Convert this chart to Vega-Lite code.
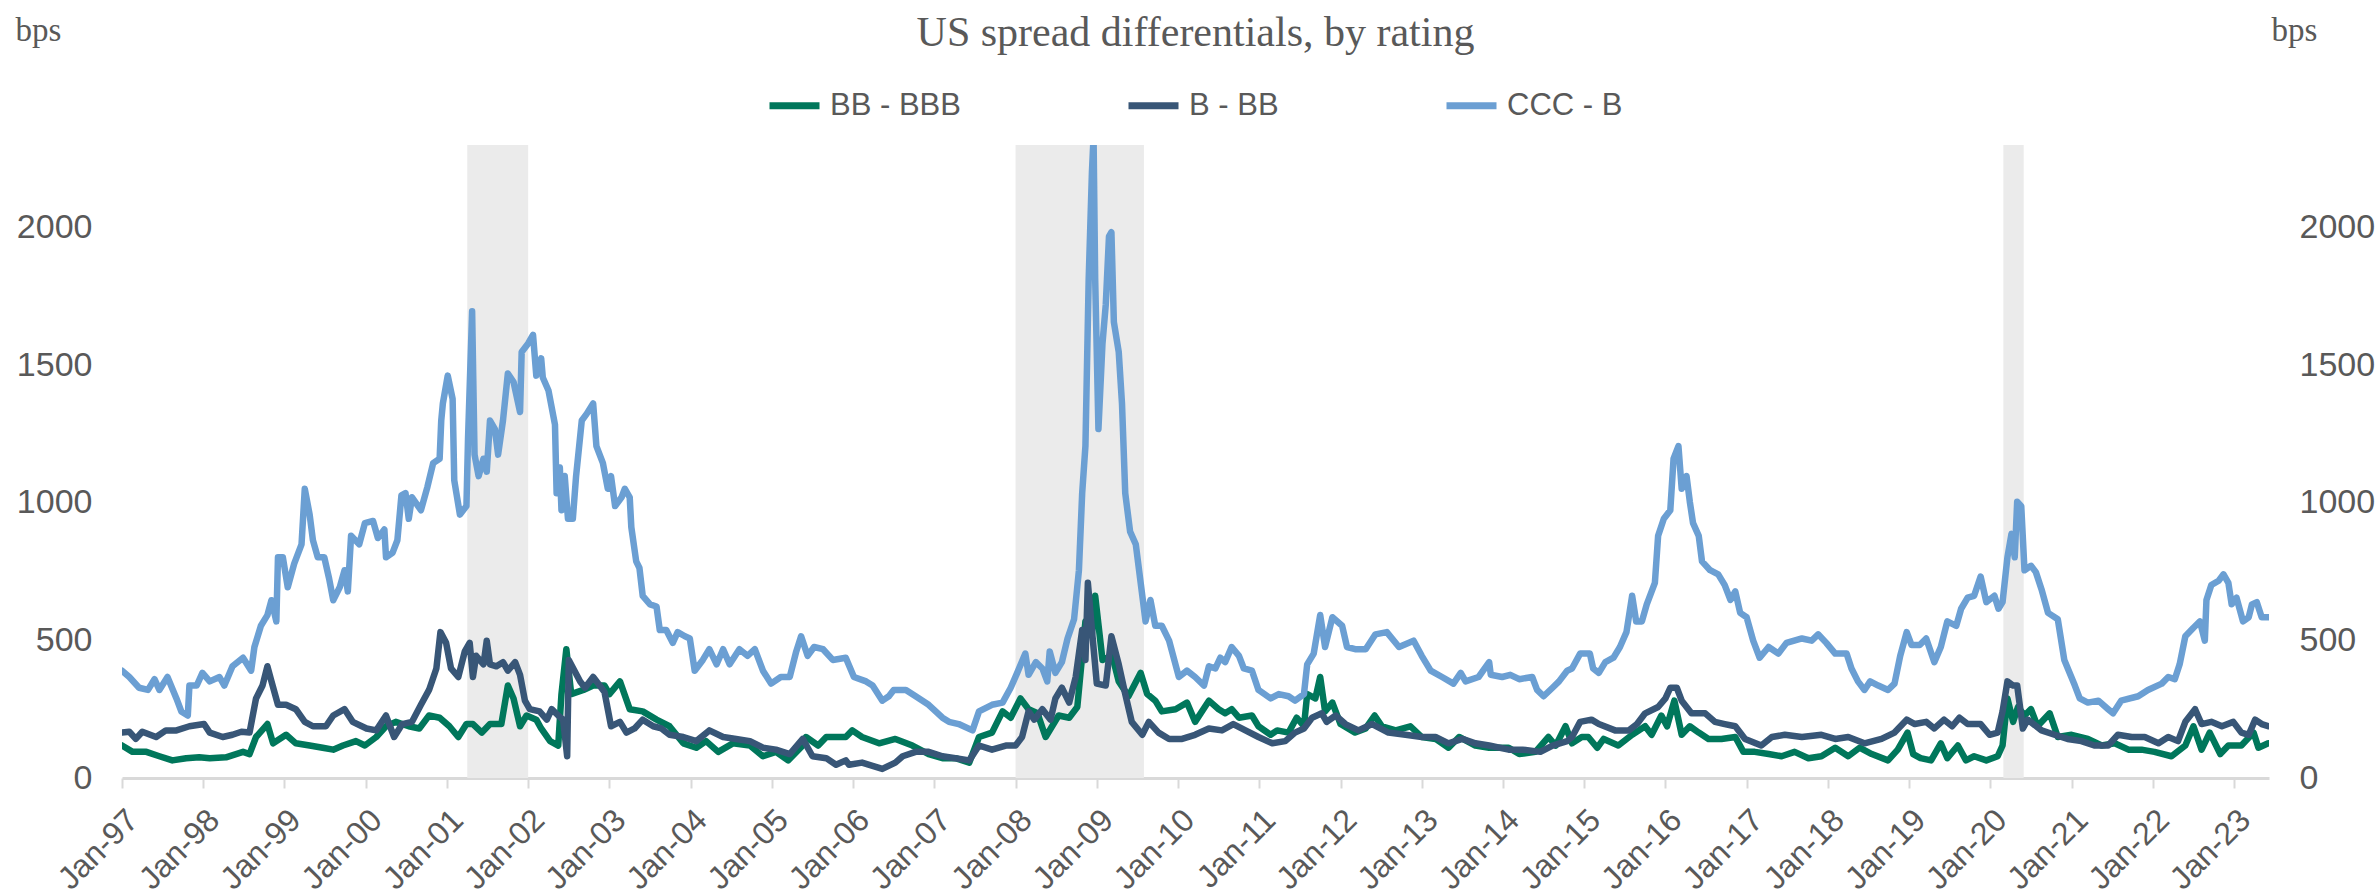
{
  "$schema": "https://vega.github.io/schema/vega-lite/v6.json",
  "width": 2147,
  "height": 633,
  "autosize": {"type": "none"},
  "padding": {"left": 122, "top": 145, "right": 110, "bottom": 118},
  "background": "white",
  "title": {"text": "US spread differentials, by rating", "font": "Liberation Serif", "fontSize": 42, "fontWeight": "normal", "color": "#595959", "anchor": "middle", "frame": "group", "offset": -41},
  "config": {"view": {"stroke": null}},
  "datasets": {
    "rec": [
      {"start": 2001.25, "end": 2002.0},
      {"start": 2008.0, "end": 2009.58},
      {"start": 2020.16, "end": 2020.41}
    ],
    "spreads": [
      {"t":1997.00,"s":"BB - BBB","v":118},{"t":1997.13,"s":"BB - BBB","v":95},{"t":1997.30,"s":"BB - BBB","v":95},{"t":1997.46,"s":"BB - BBB","v":79},{"t":1997.62,"s":"BB - BBB","v":64},{"t":1997.79,"s":"BB - BBB","v":72},{"t":1997.95,"s":"BB - BBB","v":75},{"t":1998.08,"s":"BB - BBB","v":72},{"t":1998.28,"s":"BB - BBB","v":75},{"t":1998.49,"s":"BB - BBB","v":95},{"t":1998.57,"s":"BB - BBB","v":87},{"t":1998.65,"s":"BB - BBB","v":149},{"t":1998.79,"s":"BB - BBB","v":196},{"t":1998.86,"s":"BB - BBB","v":126},{"t":1999.02,"s":"BB - BBB","v":157},{"t":1999.14,"s":"BB - BBB","v":126},{"t":1999.31,"s":"BB - BBB","v":118},{"t":1999.47,"s":"BB - BBB","v":110},{"t":1999.60,"s":"BB - BBB","v":103},{"t":1999.72,"s":"BB - BBB","v":118},{"t":1999.88,"s":"BB - BBB","v":134},{"t":1999.99,"s":"BB - BBB","v":118},{"t":2000.13,"s":"BB - BBB","v":149},{"t":2000.25,"s":"BB - BBB","v":188},{"t":2000.37,"s":"BB - BBB","v":204},{"t":2000.53,"s":"BB - BBB","v":188},{"t":2000.66,"s":"BB - BBB","v":180},{"t":2000.78,"s":"BB - BBB","v":227},{"t":2000.91,"s":"BB - BBB","v":219},{"t":2001.03,"s":"BB - BBB","v":188},{"t":2001.14,"s":"BB - BBB","v":149},{"t":2001.24,"s":"BB - BBB","v":196},{"t":2001.32,"s":"BB - BBB","v":196},{"t":2001.43,"s":"BB - BBB","v":165},{"t":2001.53,"s":"BB - BBB","v":196},{"t":2001.67,"s":"BB - BBB","v":196},{"t":2001.75,"s":"BB - BBB","v":336},{"t":2001.82,"s":"BB - BBB","v":289},{"t":2001.90,"s":"BB - BBB","v":188},{"t":2001.98,"s":"BB - BBB","v":227},{"t":2002.10,"s":"BB - BBB","v":212},{"t":2002.16,"s":"BB - BBB","v":180},{"t":2002.27,"s":"BB - BBB","v":134},{"t":2002.37,"s":"BB - BBB","v":118},{"t":2002.41,"s":"BB - BBB","v":305},{"t":2002.47,"s":"BB - BBB","v":468},{"t":2002.53,"s":"BB - BBB","v":305},{"t":2002.68,"s":"BB - BBB","v":320},{"t":2002.80,"s":"BB - BBB","v":336},{"t":2002.94,"s":"BB - BBB","v":336},{"t":2003.00,"s":"BB - BBB","v":305},{"t":2003.13,"s":"BB - BBB","v":351},{"t":2003.25,"s":"BB - BBB","v":250},{"t":2003.41,"s":"BB - BBB","v":242},{"t":2003.58,"s":"BB - BBB","v":212},{"t":2003.74,"s":"BB - BBB","v":188},{"t":2003.91,"s":"BB - BBB","v":126},{"t":2004.07,"s":"BB - BBB","v":110},{"t":2004.19,"s":"BB - BBB","v":134},{"t":2004.34,"s":"BB - BBB","v":95},{"t":2004.52,"s":"BB - BBB","v":126},{"t":2004.73,"s":"BB - BBB","v":118},{"t":2004.89,"s":"BB - BBB","v":79},{"t":2005.05,"s":"BB - BBB","v":95},{"t":2005.20,"s":"BB - BBB","v":64},{"t":2005.38,"s":"BB - BBB","v":118},{"t":2005.42,"s":"BB - BBB","v":149},{"t":2005.57,"s":"BB - BBB","v":118},{"t":2005.67,"s":"BB - BBB","v":149},{"t":2005.79,"s":"BB - BBB","v":149},{"t":2005.91,"s":"BB - BBB","v":149},{"t":2005.99,"s":"BB - BBB","v":173},{"t":2006.11,"s":"BB - BBB","v":149},{"t":2006.32,"s":"BB - BBB","v":126},{"t":2006.52,"s":"BB - BBB","v":142},{"t":2006.73,"s":"BB - BBB","v":118},{"t":2006.93,"s":"BB - BBB","v":87},{"t":2007.10,"s":"BB - BBB","v":72},{"t":2007.26,"s":"BB - BBB","v":72},{"t":2007.43,"s":"BB - BBB","v":56},{"t":2007.55,"s":"BB - BBB","v":149},{"t":2007.71,"s":"BB - BBB","v":165},{"t":2007.84,"s":"BB - BBB","v":242},{"t":2007.94,"s":"BB - BBB","v":219},{"t":2008.06,"s":"BB - BBB","v":289},{"t":2008.16,"s":"BB - BBB","v":250},{"t":2008.27,"s":"BB - BBB","v":235},{"t":2008.37,"s":"BB - BBB","v":149},{"t":2008.53,"s":"BB - BBB","v":227},{"t":2008.66,"s":"BB - BBB","v":219},{"t":2008.76,"s":"BB - BBB","v":258},{"t":2008.86,"s":"BB - BBB","v":569},{"t":2008.94,"s":"BB - BBB","v":522},{"t":2008.98,"s":"BB - BBB","v":662},{"t":2009.07,"s":"BB - BBB","v":429},{"t":2009.19,"s":"BB - BBB","v":444},{"t":2009.27,"s":"BB - BBB","v":351},{"t":2009.39,"s":"BB - BBB","v":297},{"t":2009.54,"s":"BB - BBB","v":382},{"t":2009.62,"s":"BB - BBB","v":305},{"t":2009.72,"s":"BB - BBB","v":281},{"t":2009.80,"s":"BB - BBB","v":242},{"t":2009.97,"s":"BB - BBB","v":250},{"t":2010.11,"s":"BB - BBB","v":274},{"t":2010.21,"s":"BB - BBB","v":204},{"t":2010.38,"s":"BB - BBB","v":281},{"t":2010.50,"s":"BB - BBB","v":250},{"t":2010.58,"s":"BB - BBB","v":235},{"t":2010.66,"s":"BB - BBB","v":250},{"t":2010.75,"s":"BB - BBB","v":219},{"t":2010.91,"s":"BB - BBB","v":227},{"t":2010.99,"s":"BB - BBB","v":188},{"t":2011.14,"s":"BB - BBB","v":157},{"t":2011.22,"s":"BB - BBB","v":173},{"t":2011.36,"s":"BB - BBB","v":165},{"t":2011.46,"s":"BB - BBB","v":219},{"t":2011.55,"s":"BB - BBB","v":188},{"t":2011.59,"s":"BB - BBB","v":305},{"t":2011.69,"s":"BB - BBB","v":289},{"t":2011.75,"s":"BB - BBB","v":367},{"t":2011.81,"s":"BB - BBB","v":242},{"t":2011.90,"s":"BB - BBB","v":274},{"t":2012.00,"s":"BB - BBB","v":196},{"t":2012.18,"s":"BB - BBB","v":165},{"t":2012.31,"s":"BB - BBB","v":180},{"t":2012.42,"s":"BB - BBB","v":227},{"t":2012.51,"s":"BB - BBB","v":188},{"t":2012.68,"s":"BB - BBB","v":173},{"t":2012.86,"s":"BB - BBB","v":188},{"t":2013.00,"s":"BB - BBB","v":149},{"t":2013.17,"s":"BB - BBB","v":142},{"t":2013.33,"s":"BB - BBB","v":110},{"t":2013.46,"s":"BB - BBB","v":149},{"t":2013.66,"s":"BB - BBB","v":118},{"t":2013.83,"s":"BB - BBB","v":110},{"t":2014.07,"s":"BB - BBB","v":110},{"t":2014.20,"s":"BB - BBB","v":87},{"t":2014.40,"s":"BB - BBB","v":95},{"t":2014.56,"s":"BB - BBB","v":149},{"t":2014.65,"s":"BB - BBB","v":118},{"t":2014.77,"s":"BB - BBB","v":188},{"t":2014.85,"s":"BB - BBB","v":126},{"t":2014.97,"s":"BB - BBB","v":149},{"t":2015.05,"s":"BB - BBB","v":149},{"t":2015.16,"s":"BB - BBB","v":110},{"t":2015.24,"s":"BB - BBB","v":142},{"t":2015.42,"s":"BB - BBB","v":118},{"t":2015.59,"s":"BB - BBB","v":157},{"t":2015.75,"s":"BB - BBB","v":188},{"t":2015.83,"s":"BB - BBB","v":157},{"t":2015.95,"s":"BB - BBB","v":227},{"t":2016.02,"s":"BB - BBB","v":188},{"t":2016.11,"s":"BB - BBB","v":281},{"t":2016.20,"s":"BB - BBB","v":157},{"t":2016.30,"s":"BB - BBB","v":188},{"t":2016.41,"s":"BB - BBB","v":165},{"t":2016.53,"s":"BB - BBB","v":142},{"t":2016.69,"s":"BB - BBB","v":142},{"t":2016.86,"s":"BB - BBB","v":149},{"t":2016.96,"s":"BB - BBB","v":95},{"t":2017.10,"s":"BB - BBB","v":95},{"t":2017.27,"s":"BB - BBB","v":87},{"t":2017.43,"s":"BB - BBB","v":79},{"t":2017.59,"s":"BB - BBB","v":95},{"t":2017.76,"s":"BB - BBB","v":72},{"t":2017.92,"s":"BB - BBB","v":79},{"t":2018.09,"s":"BB - BBB","v":110},{"t":2018.25,"s":"BB - BBB","v":79},{"t":2018.39,"s":"BB - BBB","v":110},{"t":2018.54,"s":"BB - BBB","v":87},{"t":2018.74,"s":"BB - BBB","v":64},{"t":2018.86,"s":"BB - BBB","v":103},{"t":2018.98,"s":"BB - BBB","v":165},{"t":2019.05,"s":"BB - BBB","v":87},{"t":2019.14,"s":"BB - BBB","v":72},{"t":2019.27,"s":"BB - BBB","v":64},{"t":2019.39,"s":"BB - BBB","v":126},{"t":2019.47,"s":"BB - BBB","v":72},{"t":2019.60,"s":"BB - BBB","v":118},{"t":2019.70,"s":"BB - BBB","v":64},{"t":2019.80,"s":"BB - BBB","v":79},{"t":2019.95,"s":"BB - BBB","v":64},{"t":2020.09,"s":"BB - BBB","v":79},{"t":2020.15,"s":"BB - BBB","v":118},{"t":2020.21,"s":"BB - BBB","v":289},{"t":2020.28,"s":"BB - BBB","v":204},{"t":2020.34,"s":"BB - BBB","v":258},{"t":2020.42,"s":"BB - BBB","v":227},{"t":2020.50,"s":"BB - BBB","v":250},{"t":2020.58,"s":"BB - BBB","v":188},{"t":2020.73,"s":"BB - BBB","v":235},{"t":2020.83,"s":"BB - BBB","v":149},{"t":2021.00,"s":"BB - BBB","v":157},{"t":2021.20,"s":"BB - BBB","v":142},{"t":2021.37,"s":"BB - BBB","v":118},{"t":2021.53,"s":"BB - BBB","v":126},{"t":2021.70,"s":"BB - BBB","v":103},{"t":2021.86,"s":"BB - BBB","v":103},{"t":2022.02,"s":"BB - BBB","v":95},{"t":2022.23,"s":"BB - BBB","v":79},{"t":2022.40,"s":"BB - BBB","v":118},{"t":2022.50,"s":"BB - BBB","v":188},{"t":2022.60,"s":"BB - BBB","v":103},{"t":2022.70,"s":"BB - BBB","v":165},{"t":2022.83,"s":"BB - BBB","v":87},{"t":2022.93,"s":"BB - BBB","v":118},{"t":2023.09,"s":"BB - BBB","v":118},{"t":2023.24,"s":"BB - BBB","v":165},{"t":2023.30,"s":"BB - BBB","v":110},{"t":2023.42,"s":"BB - BBB","v":126},

      {"t":1997.00,"s":"B - BB","v":165},{"t":1997.09,"s":"B - BB","v":168},{"t":1997.17,"s":"B - BB","v":142},{"t":1997.25,"s":"B - BB","v":168},{"t":1997.42,"s":"B - BB","v":149},{"t":1997.54,"s":"B - BB","v":173},{"t":1997.67,"s":"B - BB","v":173},{"t":1997.83,"s":"B - BB","v":188},{"t":1998.01,"s":"B - BB","v":196},{"t":1998.08,"s":"B - BB","v":165},{"t":1998.24,"s":"B - BB","v":149},{"t":1998.36,"s":"B - BB","v":157},{"t":1998.47,"s":"B - BB","v":168},{"t":1998.57,"s":"B - BB","v":165},{"t":1998.65,"s":"B - BB","v":289},{"t":1998.73,"s":"B - BB","v":336},{"t":1998.79,"s":"B - BB","v":406},{"t":1998.84,"s":"B - BB","v":351},{"t":1998.92,"s":"B - BB","v":266},{"t":1999.02,"s":"B - BB","v":266},{"t":1999.14,"s":"B - BB","v":250},{"t":1999.25,"s":"B - BB","v":204},{"t":1999.35,"s":"B - BB","v":188},{"t":1999.51,"s":"B - BB","v":188},{"t":1999.60,"s":"B - BB","v":227},{"t":1999.74,"s":"B - BB","v":250},{"t":1999.84,"s":"B - BB","v":204},{"t":2000.01,"s":"B - BB","v":180},{"t":2000.13,"s":"B - BB","v":173},{"t":2000.25,"s":"B - BB","v":227},{"t":2000.35,"s":"B - BB","v":149},{"t":2000.45,"s":"B - BB","v":196},{"t":2000.57,"s":"B - BB","v":204},{"t":2000.68,"s":"B - BB","v":266},{"t":2000.78,"s":"B - BB","v":320},{"t":2000.87,"s":"B - BB","v":398},{"t":2000.92,"s":"B - BB","v":530},{"t":2000.99,"s":"B - BB","v":491},{"t":2001.05,"s":"B - BB","v":398},{"t":2001.14,"s":"B - BB","v":367},{"t":2001.22,"s":"B - BB","v":460},{"t":2001.28,"s":"B - BB","v":491},{"t":2001.32,"s":"B - BB","v":367},{"t":2001.36,"s":"B - BB","v":444},{"t":2001.45,"s":"B - BB","v":413},{"t":2001.49,"s":"B - BB","v":499},{"t":2001.53,"s":"B - BB","v":413},{"t":2001.61,"s":"B - BB","v":406},{"t":2001.69,"s":"B - BB","v":421},{"t":2001.75,"s":"B - BB","v":390},{"t":2001.84,"s":"B - BB","v":421},{"t":2001.90,"s":"B - BB","v":375},{"t":2001.96,"s":"B - BB","v":281},{"t":2002.02,"s":"B - BB","v":250},{"t":2002.14,"s":"B - BB","v":242},{"t":2002.23,"s":"B - BB","v":212},{"t":2002.29,"s":"B - BB","v":250},{"t":2002.37,"s":"B - BB","v":227},{"t":2002.43,"s":"B - BB","v":212},{"t":2002.48,"s":"B - BB","v":79},{"t":2002.50,"s":"B - BB","v":429},{"t":2002.57,"s":"B - BB","v":390},{"t":2002.64,"s":"B - BB","v":351},{"t":2002.70,"s":"B - BB","v":328},{"t":2002.80,"s":"B - BB","v":367},{"t":2002.88,"s":"B - BB","v":336},{"t":2002.94,"s":"B - BB","v":312},{"t":2002.98,"s":"B - BB","v":250},{"t":2003.02,"s":"B - BB","v":188},{"t":2003.13,"s":"B - BB","v":204},{"t":2003.21,"s":"B - BB","v":165},{"t":2003.31,"s":"B - BB","v":180},{"t":2003.41,"s":"B - BB","v":212},{"t":2003.54,"s":"B - BB","v":188},{"t":2003.64,"s":"B - BB","v":180},{"t":2003.74,"s":"B - BB","v":157},{"t":2003.91,"s":"B - BB","v":149},{"t":2004.07,"s":"B - BB","v":134},{"t":2004.23,"s":"B - BB","v":173},{"t":2004.40,"s":"B - BB","v":149},{"t":2004.56,"s":"B - BB","v":142},{"t":2004.73,"s":"B - BB","v":134},{"t":2004.89,"s":"B - BB","v":110},{"t":2005.05,"s":"B - BB","v":103},{"t":2005.22,"s":"B - BB","v":87},{"t":2005.38,"s":"B - BB","v":142},{"t":2005.50,"s":"B - BB","v":79},{"t":2005.67,"s":"B - BB","v":72},{"t":2005.79,"s":"B - BB","v":48},{"t":2005.91,"s":"B - BB","v":64},{"t":2005.95,"s":"B - BB","v":48},{"t":2006.11,"s":"B - BB","v":56},{"t":2006.36,"s":"B - BB","v":33},{"t":2006.52,"s":"B - BB","v":56},{"t":2006.61,"s":"B - BB","v":79},{"t":2006.77,"s":"B - BB","v":95},{"t":2006.93,"s":"B - BB","v":95},{"t":2007.10,"s":"B - BB","v":79},{"t":2007.26,"s":"B - BB","v":72},{"t":2007.43,"s":"B - BB","v":64},{"t":2007.55,"s":"B - BB","v":118},{"t":2007.71,"s":"B - BB","v":103},{"t":2007.88,"s":"B - BB","v":118},{"t":2008.00,"s":"B - BB","v":118},{"t":2008.08,"s":"B - BB","v":149},{"t":2008.16,"s":"B - BB","v":242},{"t":2008.23,"s":"B - BB","v":212},{"t":2008.33,"s":"B - BB","v":250},{"t":2008.43,"s":"B - BB","v":212},{"t":2008.49,"s":"B - BB","v":289},{"t":2008.57,"s":"B - BB","v":328},{"t":2008.66,"s":"B - BB","v":274},{"t":2008.74,"s":"B - BB","v":367},{"t":2008.82,"s":"B - BB","v":538},{"t":2008.86,"s":"B - BB","v":429},{"t":2008.89,"s":"B - BB","v":709},{"t":2008.94,"s":"B - BB","v":538},{"t":2009.00,"s":"B - BB","v":343},{"t":2009.11,"s":"B - BB","v":336},{"t":2009.18,"s":"B - BB","v":515},{"t":2009.27,"s":"B - BB","v":413},{"t":2009.35,"s":"B - BB","v":305},{"t":2009.43,"s":"B - BB","v":204},{"t":2009.56,"s":"B - BB","v":157},{"t":2009.64,"s":"B - BB","v":204},{"t":2009.76,"s":"B - BB","v":165},{"t":2009.89,"s":"B - BB","v":142},{"t":2010.05,"s":"B - BB","v":142},{"t":2010.21,"s":"B - BB","v":157},{"t":2010.38,"s":"B - BB","v":180},{"t":2010.54,"s":"B - BB","v":173},{"t":2010.68,"s":"B - BB","v":196},{"t":2010.83,"s":"B - BB","v":173},{"t":2010.99,"s":"B - BB","v":149},{"t":2011.16,"s":"B - BB","v":126},{"t":2011.32,"s":"B - BB","v":134},{"t":2011.44,"s":"B - BB","v":165},{"t":2011.55,"s":"B - BB","v":180},{"t":2011.65,"s":"B - BB","v":219},{"t":2011.77,"s":"B - BB","v":235},{"t":2011.83,"s":"B - BB","v":204},{"t":2011.94,"s":"B - BB","v":227},{"t":2012.06,"s":"B - BB","v":196},{"t":2012.22,"s":"B - BB","v":173},{"t":2012.39,"s":"B - BB","v":196},{"t":2012.59,"s":"B - BB","v":165},{"t":2012.80,"s":"B - BB","v":157},{"t":2013.00,"s":"B - BB","v":149},{"t":2013.17,"s":"B - BB","v":149},{"t":2013.33,"s":"B - BB","v":126},{"t":2013.50,"s":"B - BB","v":142},{"t":2013.66,"s":"B - BB","v":126},{"t":2013.83,"s":"B - BB","v":118},{"t":2014.07,"s":"B - BB","v":103},{"t":2014.24,"s":"B - BB","v":103},{"t":2014.46,"s":"B - BB","v":95},{"t":2014.61,"s":"B - BB","v":118},{"t":2014.79,"s":"B - BB","v":134},{"t":2014.85,"s":"B - BB","v":149},{"t":2014.95,"s":"B - BB","v":204},{"t":2015.09,"s":"B - BB","v":212},{"t":2015.18,"s":"B - BB","v":196},{"t":2015.38,"s":"B - BB","v":173},{"t":2015.55,"s":"B - BB","v":173},{"t":2015.65,"s":"B - BB","v":196},{"t":2015.75,"s":"B - BB","v":235},{"t":2015.91,"s":"B - BB","v":258},{"t":2016.00,"s":"B - BB","v":289},{"t":2016.06,"s":"B - BB","v":328},{"t":2016.14,"s":"B - BB","v":328},{"t":2016.20,"s":"B - BB","v":281},{"t":2016.32,"s":"B - BB","v":235},{"t":2016.49,"s":"B - BB","v":235},{"t":2016.61,"s":"B - BB","v":204},{"t":2016.73,"s":"B - BB","v":196},{"t":2016.86,"s":"B - BB","v":188},{"t":2016.98,"s":"B - BB","v":142},{"t":2017.18,"s":"B - BB","v":118},{"t":2017.31,"s":"B - BB","v":149},{"t":2017.47,"s":"B - BB","v":157},{"t":2017.68,"s":"B - BB","v":149},{"t":2017.92,"s":"B - BB","v":157},{"t":2018.09,"s":"B - BB","v":142},{"t":2018.25,"s":"B - BB","v":149},{"t":2018.45,"s":"B - BB","v":126},{"t":2018.66,"s":"B - BB","v":142},{"t":2018.82,"s":"B - BB","v":165},{"t":2018.97,"s":"B - BB","v":212},{"t":2019.07,"s":"B - BB","v":196},{"t":2019.21,"s":"B - BB","v":204},{"t":2019.31,"s":"B - BB","v":180},{"t":2019.43,"s":"B - BB","v":212},{"t":2019.53,"s":"B - BB","v":188},{"t":2019.62,"s":"B - BB","v":219},{"t":2019.72,"s":"B - BB","v":196},{"t":2019.88,"s":"B - BB","v":196},{"t":2019.99,"s":"B - BB","v":157},{"t":2020.09,"s":"B - BB","v":165},{"t":2020.15,"s":"B - BB","v":242},{"t":2020.21,"s":"B - BB","v":351},{"t":2020.28,"s":"B - BB","v":336},{"t":2020.33,"s":"B - BB","v":336},{"t":2020.40,"s":"B - BB","v":180},{"t":2020.46,"s":"B - BB","v":212},{"t":2020.63,"s":"B - BB","v":173},{"t":2020.79,"s":"B - BB","v":157},{"t":2020.95,"s":"B - BB","v":142},{"t":2021.12,"s":"B - BB","v":134},{"t":2021.28,"s":"B - BB","v":118},{"t":2021.45,"s":"B - BB","v":118},{"t":2021.57,"s":"B - BB","v":157},{"t":2021.74,"s":"B - BB","v":149},{"t":2021.90,"s":"B - BB","v":149},{"t":2022.07,"s":"B - BB","v":126},{"t":2022.19,"s":"B - BB","v":149},{"t":2022.31,"s":"B - BB","v":134},{"t":2022.40,"s":"B - BB","v":204},{"t":2022.52,"s":"B - BB","v":250},{"t":2022.60,"s":"B - BB","v":196},{"t":2022.72,"s":"B - BB","v":204},{"t":2022.85,"s":"B - BB","v":188},{"t":2022.99,"s":"B - BB","v":204},{"t":2023.09,"s":"B - BB","v":165},{"t":2023.18,"s":"B - BB","v":157},{"t":2023.26,"s":"B - BB","v":212},{"t":2023.34,"s":"B - BB","v":196},{"t":2023.42,"s":"B - BB","v":188},

      {"t":1997.00,"s":"CCC - B","v":390},{"t":1997.09,"s":"CCC - B","v":367},{"t":1997.21,"s":"CCC - B","v":328},{"t":1997.32,"s":"CCC - B","v":320},{"t":1997.40,"s":"CCC - B","v":359},{"t":1997.46,"s":"CCC - B","v":320},{"t":1997.56,"s":"CCC - B","v":367},{"t":1997.67,"s":"CCC - B","v":289},{"t":1997.73,"s":"CCC - B","v":242},{"t":1997.81,"s":"CCC - B","v":227},{"t":1997.83,"s":"CCC - B","v":336},{"t":1997.92,"s":"CCC - B","v":336},{"t":1997.99,"s":"CCC - B","v":382},{"t":1998.08,"s":"CCC - B","v":351},{"t":1998.20,"s":"CCC - B","v":367},{"t":1998.26,"s":"CCC - B","v":336},{"t":1998.36,"s":"CCC - B","v":406},{"t":1998.49,"s":"CCC - B","v":437},{"t":1998.59,"s":"CCC - B","v":390},{"t":1998.63,"s":"CCC - B","v":476},{"t":1998.71,"s":"CCC - B","v":553},{"t":1998.79,"s":"CCC - B","v":592},{"t":1998.84,"s":"CCC - B","v":646},{"t":1998.90,"s":"CCC - B","v":569},{"t":1998.92,"s":"CCC - B","v":802},{"t":1998.98,"s":"CCC - B","v":802},{"t":1999.04,"s":"CCC - B","v":693},{"t":1999.12,"s":"CCC - B","v":779},{"t":1999.21,"s":"CCC - B","v":849},{"t":1999.25,"s":"CCC - B","v":1051},{"t":1999.31,"s":"CCC - B","v":957},{"t":1999.35,"s":"CCC - B","v":864},{"t":1999.41,"s":"CCC - B","v":802},{"t":1999.49,"s":"CCC - B","v":802},{"t":1999.55,"s":"CCC - B","v":724},{"t":1999.60,"s":"CCC - B","v":646},{"t":1999.68,"s":"CCC - B","v":693},{"t":1999.74,"s":"CCC - B","v":755},{"t":1999.78,"s":"CCC - B","v":678},{"t":1999.82,"s":"CCC - B","v":880},{"t":1999.92,"s":"CCC - B","v":849},{"t":1999.99,"s":"CCC - B","v":926},{"t":2000.09,"s":"CCC - B","v":934},{"t":2000.15,"s":"CCC - B","v":872},{"t":2000.23,"s":"CCC - B","v":903},{"t":2000.25,"s":"CCC - B","v":802},{"t":2000.33,"s":"CCC - B","v":818},{"t":2000.39,"s":"CCC - B","v":864},{"t":2000.44,"s":"CCC - B","v":1027},{"t":2000.49,"s":"CCC - B","v":1035},{"t":2000.53,"s":"CCC - B","v":942},{"t":2000.57,"s":"CCC - B","v":1020},{"t":2000.68,"s":"CCC - B","v":973},{"t":2000.76,"s":"CCC - B","v":1058},{"t":2000.83,"s":"CCC - B","v":1144},{"t":2000.91,"s":"CCC - B","v":1160},{"t":2000.93,"s":"CCC - B","v":1299},{"t":2000.95,"s":"CCC - B","v":1361},{"t":2001.01,"s":"CCC - B","v":1462},{"t":2001.07,"s":"CCC - B","v":1377},{"t":2001.09,"s":"CCC - B","v":1082},{"t":2001.16,"s":"CCC - B","v":957},{"t":2001.24,"s":"CCC - B","v":988},{"t":2001.26,"s":"CCC - B","v":1237},{"t":2001.31,"s":"CCC - B","v":1696},{"t":2001.34,"s":"CCC - B","v":1175},{"t":2001.39,"s":"CCC - B","v":1097},{"t":2001.45,"s":"CCC - B","v":1160},{"t":2001.49,"s":"CCC - B","v":1113},{"t":2001.53,"s":"CCC - B","v":1299},{"t":2001.59,"s":"CCC - B","v":1268},{"t":2001.63,"s":"CCC - B","v":1175},{"t":2001.69,"s":"CCC - B","v":1299},{"t":2001.75,"s":"CCC - B","v":1470},{"t":2001.82,"s":"CCC - B","v":1439},{"t":2001.90,"s":"CCC - B","v":1330},{"t":2001.92,"s":"CCC - B","v":1548},{"t":2002.00,"s":"CCC - B","v":1579},{"t":2002.06,"s":"CCC - B","v":1610},{"t":2002.10,"s":"CCC - B","v":1462},{"t":2002.16,"s":"CCC - B","v":1525},{"t":2002.18,"s":"CCC - B","v":1455},{"t":2002.25,"s":"CCC - B","v":1408},{"t":2002.33,"s":"CCC - B","v":1284},{"t":2002.35,"s":"CCC - B","v":1035},{"t":2002.39,"s":"CCC - B","v":1128},{"t":2002.41,"s":"CCC - B","v":973},{"t":2002.45,"s":"CCC - B","v":1097},{"t":2002.49,"s":"CCC - B","v":942},{"t":2002.55,"s":"CCC - B","v":942},{"t":2002.59,"s":"CCC - B","v":1097},{"t":2002.66,"s":"CCC - B","v":1299},{"t":2002.72,"s":"CCC - B","v":1323},{"t":2002.80,"s":"CCC - B","v":1361},{"t":2002.84,"s":"CCC - B","v":1206},{"t":2002.92,"s":"CCC - B","v":1144},{"t":2002.98,"s":"CCC - B","v":1051},{"t":2003.02,"s":"CCC - B","v":1097},{"t":2003.07,"s":"CCC - B","v":988},{"t":2003.15,"s":"CCC - B","v":1020},{"t":2003.19,"s":"CCC - B","v":1051},{"t":2003.25,"s":"CCC - B","v":1020},{"t":2003.27,"s":"CCC - B","v":911},{"t":2003.33,"s":"CCC - B","v":787},{"t":2003.37,"s":"CCC - B","v":763},{"t":2003.41,"s":"CCC - B","v":662},{"t":2003.50,"s":"CCC - B","v":631},{"t":2003.58,"s":"CCC - B","v":623},{"t":2003.62,"s":"CCC - B","v":538},{"t":2003.70,"s":"CCC - B","v":538},{"t":2003.78,"s":"CCC - B","v":491},{"t":2003.84,"s":"CCC - B","v":530},{"t":2003.93,"s":"CCC - B","v":515},{"t":2003.99,"s":"CCC - B","v":507},{"t":2004.05,"s":"CCC - B","v":390},{"t":2004.15,"s":"CCC - B","v":429},{"t":2004.23,"s":"CCC - B","v":468},{"t":2004.32,"s":"CCC - B","v":413},{"t":2004.40,"s":"CCC - B","v":468},{"t":2004.48,"s":"CCC - B","v":413},{"t":2004.60,"s":"CCC - B","v":468},{"t":2004.70,"s":"CCC - B","v":444},{"t":2004.79,"s":"CCC - B","v":468},{"t":2004.89,"s":"CCC - B","v":390},{"t":2004.99,"s":"CCC - B","v":343},{"t":2005.11,"s":"CCC - B","v":367},{"t":2005.22,"s":"CCC - B","v":367},{"t":2005.30,"s":"CCC - B","v":460},{"t":2005.36,"s":"CCC - B","v":515},{"t":2005.44,"s":"CCC - B","v":444},{"t":2005.52,"s":"CCC - B","v":476},{"t":2005.63,"s":"CCC - B","v":468},{"t":2005.75,"s":"CCC - B","v":429},{"t":2005.91,"s":"CCC - B","v":437},{"t":2006.01,"s":"CCC - B","v":367},{"t":2006.16,"s":"CCC - B","v":351},{"t":2006.24,"s":"CCC - B","v":336},{"t":2006.36,"s":"CCC - B","v":281},{"t":2006.44,"s":"CCC - B","v":297},{"t":2006.50,"s":"CCC - B","v":320},{"t":2006.65,"s":"CCC - B","v":320},{"t":2006.77,"s":"CCC - B","v":297},{"t":2006.93,"s":"CCC - B","v":266},{"t":2007.10,"s":"CCC - B","v":219},{"t":2007.18,"s":"CCC - B","v":204},{"t":2007.30,"s":"CCC - B","v":196},{"t":2007.47,"s":"CCC - B","v":173},{"t":2007.55,"s":"CCC - B","v":242},{"t":2007.71,"s":"CCC - B","v":266},{"t":2007.84,"s":"CCC - B","v":274},{"t":2007.94,"s":"CCC - B","v":328},{"t":2008.02,"s":"CCC - B","v":382},{"t":2008.12,"s":"CCC - B","v":452},{"t":2008.16,"s":"CCC - B","v":375},{"t":2008.25,"s":"CCC - B","v":421},{"t":2008.33,"s":"CCC - B","v":398},{"t":2008.39,"s":"CCC - B","v":351},{"t":2008.42,"s":"CCC - B","v":460},{"t":2008.49,"s":"CCC - B","v":382},{"t":2008.57,"s":"CCC - B","v":421},{"t":2008.64,"s":"CCC - B","v":507},{"t":2008.72,"s":"CCC - B","v":577},{"t":2008.78,"s":"CCC - B","v":755},{"t":2008.82,"s":"CCC - B","v":1035},{"t":2008.86,"s":"CCC - B","v":1206},{"t":2008.90,"s":"CCC - B","v":1812},{"t":2008.94,"s":"CCC - B","v":2201},{"t":2008.96,"s":"CCC - B","v":2330},{"t":2008.98,"s":"CCC - B","v":1812},{"t":2009.02,"s":"CCC - B","v":1268},{"t":2009.07,"s":"CCC - B","v":1579},{"t":2009.11,"s":"CCC - B","v":1719},{"t":2009.15,"s":"CCC - B","v":1968},{"t":2009.18,"s":"CCC - B","v":1983},{"t":2009.21,"s":"CCC - B","v":1657},{"t":2009.27,"s":"CCC - B","v":1548},{"t":2009.31,"s":"CCC - B","v":1361},{"t":2009.35,"s":"CCC - B","v":1035},{"t":2009.41,"s":"CCC - B","v":895},{"t":2009.48,"s":"CCC - B","v":849},{"t":2009.54,"s":"CCC - B","v":709},{"t":2009.60,"s":"CCC - B","v":569},{"t":2009.66,"s":"CCC - B","v":647},{"t":2009.72,"s":"CCC - B","v":553},{"t":2009.80,"s":"CCC - B","v":553},{"t":2009.89,"s":"CCC - B","v":499},{"t":2010.01,"s":"CCC - B","v":367},{"t":2010.11,"s":"CCC - B","v":390},{"t":2010.21,"s":"CCC - B","v":367},{"t":2010.32,"s":"CCC - B","v":336},{"t":2010.38,"s":"CCC - B","v":406},{"t":2010.46,"s":"CCC - B","v":398},{"t":2010.52,"s":"CCC - B","v":437},{"t":2010.58,"s":"CCC - B","v":421},{"t":2010.66,"s":"CCC - B","v":476},{"t":2010.75,"s":"CCC - B","v":444},{"t":2010.81,"s":"CCC - B","v":398},{"t":2010.91,"s":"CCC - B","v":390},{"t":2010.99,"s":"CCC - B","v":320},{"t":2011.14,"s":"CCC - B","v":289},{"t":2011.24,"s":"CCC - B","v":305},{"t":2011.36,"s":"CCC - B","v":297},{"t":2011.44,"s":"CCC - B","v":281},{"t":2011.55,"s":"CCC - B","v":305},{"t":2011.59,"s":"CCC - B","v":413},{"t":2011.67,"s":"CCC - B","v":452},{"t":2011.75,"s":"CCC - B","v":592},{"t":2011.81,"s":"CCC - B","v":476},{"t":2011.90,"s":"CCC - B","v":584},{"t":2012.02,"s":"CCC - B","v":553},{"t":2012.08,"s":"CCC - B","v":476},{"t":2012.18,"s":"CCC - B","v":468},{"t":2012.31,"s":"CCC - B","v":468},{"t":2012.43,"s":"CCC - B","v":522},{"t":2012.57,"s":"CCC - B","v":530},{"t":2012.72,"s":"CCC - B","v":476},{"t":2012.90,"s":"CCC - B","v":499},{"t":2013.00,"s":"CCC - B","v":444},{"t":2013.11,"s":"CCC - B","v":390},{"t":2013.25,"s":"CCC - B","v":367},{"t":2013.39,"s":"CCC - B","v":343},{"t":2013.48,"s":"CCC - B","v":382},{"t":2013.54,"s":"CCC - B","v":351},{"t":2013.70,"s":"CCC - B","v":367},{"t":2013.83,"s":"CCC - B","v":421},{"t":2013.85,"s":"CCC - B","v":375},{"t":2013.99,"s":"CCC - B","v":367},{"t":2014.09,"s":"CCC - B","v":375},{"t":2014.20,"s":"CCC - B","v":359},{"t":2014.36,"s":"CCC - B","v":367},{"t":2014.42,"s":"CCC - B","v":320},{"t":2014.50,"s":"CCC - B","v":297},{"t":2014.61,"s":"CCC - B","v":328},{"t":2014.69,"s":"CCC - B","v":351},{"t":2014.79,"s":"CCC - B","v":390},{"t":2014.85,"s":"CCC - B","v":398},{"t":2014.95,"s":"CCC - B","v":452},{"t":2015.07,"s":"CCC - B","v":452},{"t":2015.11,"s":"CCC - B","v":398},{"t":2015.18,"s":"CCC - B","v":382},{"t":2015.26,"s":"CCC - B","v":421},{"t":2015.36,"s":"CCC - B","v":437},{"t":2015.44,"s":"CCC - B","v":476},{"t":2015.52,"s":"CCC - B","v":530},{"t":2015.59,"s":"CCC - B","v":662},{"t":2015.64,"s":"CCC - B","v":569},{"t":2015.71,"s":"CCC - B","v":569},{"t":2015.77,"s":"CCC - B","v":631},{"t":2015.87,"s":"CCC - B","v":709},{"t":2015.91,"s":"CCC - B","v":880},{"t":2015.98,"s":"CCC - B","v":942},{"t":2016.06,"s":"CCC - B","v":973},{"t":2016.10,"s":"CCC - B","v":1160},{"t":2016.16,"s":"CCC - B","v":1206},{"t":2016.20,"s":"CCC - B","v":1051},{"t":2016.26,"s":"CCC - B","v":1097},{"t":2016.30,"s":"CCC - B","v":1004},{"t":2016.34,"s":"CCC - B","v":926},{"t":2016.41,"s":"CCC - B","v":880},{"t":2016.45,"s":"CCC - B","v":787},{"t":2016.55,"s":"CCC - B","v":755},{"t":2016.65,"s":"CCC - B","v":740},{"t":2016.73,"s":"CCC - B","v":701},{"t":2016.80,"s":"CCC - B","v":647},{"t":2016.86,"s":"CCC - B","v":678},{"t":2016.92,"s":"CCC - B","v":600},{"t":2017.00,"s":"CCC - B","v":584},{"t":2017.08,"s":"CCC - B","v":499},{"t":2017.16,"s":"CCC - B","v":437},{"t":2017.27,"s":"CCC - B","v":476},{"t":2017.39,"s":"CCC - B","v":452},{"t":2017.49,"s":"CCC - B","v":491},{"t":2017.68,"s":"CCC - B","v":507},{"t":2017.80,"s":"CCC - B","v":499},{"t":2017.88,"s":"CCC - B","v":522},{"t":2017.98,"s":"CCC - B","v":491},{"t":2018.09,"s":"CCC - B","v":452},{"t":2018.23,"s":"CCC - B","v":452},{"t":2018.29,"s":"CCC - B","v":398},{"t":2018.37,"s":"CCC - B","v":351},{"t":2018.45,"s":"CCC - B","v":320},{"t":2018.52,"s":"CCC - B","v":351},{"t":2018.62,"s":"CCC - B","v":336},{"t":2018.74,"s":"CCC - B","v":320},{"t":2018.82,"s":"CCC - B","v":343},{"t":2018.89,"s":"CCC - B","v":444},{"t":2018.97,"s":"CCC - B","v":530},{"t":2019.03,"s":"CCC - B","v":483},{"t":2019.13,"s":"CCC - B","v":483},{"t":2019.21,"s":"CCC - B","v":507},{"t":2019.31,"s":"CCC - B","v":421},{"t":2019.39,"s":"CCC - B","v":476},{"t":2019.47,"s":"CCC - B","v":569},{"t":2019.58,"s":"CCC - B","v":553},{"t":2019.64,"s":"CCC - B","v":615},{"t":2019.72,"s":"CCC - B","v":655},{"t":2019.80,"s":"CCC - B","v":662},{"t":2019.88,"s":"CCC - B","v":732},{"t":2019.95,"s":"CCC - B","v":639},{"t":2020.05,"s":"CCC - B","v":662},{"t":2020.10,"s":"CCC - B","v":615},{"t":2020.15,"s":"CCC - B","v":639},{"t":2020.21,"s":"CCC - B","v":802},{"t":2020.26,"s":"CCC - B","v":887},{"t":2020.30,"s":"CCC - B","v":802},{"t":2020.33,"s":"CCC - B","v":1004},{"t":2020.38,"s":"CCC - B","v":988},{"t":2020.42,"s":"CCC - B","v":755},{"t":2020.50,"s":"CCC - B","v":771},{"t":2020.56,"s":"CCC - B","v":748},{"t":2020.63,"s":"CCC - B","v":685},{"t":2020.71,"s":"CCC - B","v":600},{"t":2020.83,"s":"CCC - B","v":577},{"t":2020.91,"s":"CCC - B","v":429},{"t":2021.04,"s":"CCC - B","v":336},{"t":2021.10,"s":"CCC - B","v":289},{"t":2021.20,"s":"CCC - B","v":274},{"t":2021.33,"s":"CCC - B","v":281},{"t":2021.45,"s":"CCC - B","v":250},{"t":2021.51,"s":"CCC - B","v":235},{"t":2021.61,"s":"CCC - B","v":281},{"t":2021.82,"s":"CCC - B","v":297},{"t":2021.94,"s":"CCC - B","v":320},{"t":2022.11,"s":"CCC - B","v":343},{"t":2022.19,"s":"CCC - B","v":367},{"t":2022.27,"s":"CCC - B","v":359},{"t":2022.33,"s":"CCC - B","v":413},{"t":2022.40,"s":"CCC - B","v":515},{"t":2022.50,"s":"CCC - B","v":546},{"t":2022.58,"s":"CCC - B","v":569},{"t":2022.64,"s":"CCC - B","v":499},{"t":2022.66,"s":"CCC - B","v":647},{"t":2022.72,"s":"CCC - B","v":701},{"t":2022.81,"s":"CCC - B","v":717},{"t":2022.87,"s":"CCC - B","v":740},{"t":2022.93,"s":"CCC - B","v":709},{"t":2022.97,"s":"CCC - B","v":631},{"t":2023.03,"s":"CCC - B","v":655},{"t":2023.11,"s":"CCC - B","v":569},{"t":2023.18,"s":"CCC - B","v":584},{"t":2023.22,"s":"CCC - B","v":631},{"t":2023.28,"s":"CCC - B","v":639},{"t":2023.34,"s":"CCC - B","v":584},{"t":2023.42,"s":"CCC - B","v":584}
    ]
  },
  "layer": [
    {
      "data": {"name": "rec"},
      "mark": {"type": "rect", "color": "#ebebeb"},
      "encoding": {
        "x": {"field": "start", "type": "quantitative", "scale": {"domain": [1997, 2023.43], "nice": false, "zero": false},
          "axis": {"values": [1997,1998,1999,2000,2001,2002,2003,2004,2005,2006,2007,2008,2009,2010,2011,2012,2013,2014,2015,2016,2017,2018,2019,2020,2021,2022,2023],
            "labelExpr": "'Jan-' + slice(toString(datum.value), 2)", "labelAngle": -45, "labelFontSize": 32, "labelFont": "Liberation Sans", "labelColor": "#595959",
            "labelPadding": 16, "labelOverlap": false, "labelFlush": false, "labelBound": false,
            "domainColor": "#d9d9d9", "domainWidth": 3, "tickColor": "#d9d9d9", "tickWidth": 2, "tickSize": 10, "grid": false, "title": null}},
        "x2": {"field": "end"},
        "y": {"datum": 2300, "type": "quantitative", "scale": {"domain": [0, 2300], "nice": false},
          "axis": {"orient": "left", "values": [0, 500, 1000, 1500, 2000], "format": "d", "domain": false, "ticks": false, "grid": false,
            "labelFontSize": 34, "labelFont": "Liberation Sans", "labelColor": "#595959", "labelPadding": 30,
            "title": "bps", "titleAngle": 0, "titleX": -107, "titleY": -115, "titleAlign": "left", "titleBaseline": "middle",
            "titleFont": "Liberation Serif", "titleFontSize": 33, "titleFontWeight": "normal", "titleColor": "#595959"}},
        "y2": {"datum": 0}
      }
    },
    {
      "data": {"name": "spreads"},
      "mark": {"type": "line", "strokeWidth": 6.5, "clip": true, "strokeJoin": "round", "strokeCap": "round"},
      "encoding": {
        "x": {"field": "t", "type": "quantitative", "title": null},
        "y": {"field": "v", "type": "quantitative",
          "axis": {"orient": "right", "values": [0, 500, 1000, 1500, 2000], "format": "d", "domain": false, "ticks": false, "grid": false,
            "labelFontSize": 34, "labelFont": "Liberation Sans", "labelColor": "#595959", "labelPadding": 30,
            "title": "bps", "titleAngle": 0, "titleX": 2, "titleY": -115, "titleAlign": "left", "titleBaseline": "middle",
            "titleFont": "Liberation Serif", "titleFontSize": 33, "titleFontWeight": "normal", "titleColor": "#595959"}},
        "color": {"field": "s", "type": "nominal",
          "scale": {"domain": ["BB - BBB", "B - BB", "CCC - B"], "range": ["#00775B", "#385677", "#6B9FD3"]},
          "legend": {"orient": "none", "legendX": 644, "legendY": -68, "direction": "horizontal", "title": null,
            "symbolType": "stroke", "symbolSize": 2500, "symbolStrokeWidth": 7, "labelFontSize": 31, "labelFont": "Liberation Sans",
            "labelColor": "#595959", "labelOffset": 7, "columnPadding": 153, "padding": 0}}
      }
    }
  ],
  "resolve": {"axis": {"y": "independent"}}
}
